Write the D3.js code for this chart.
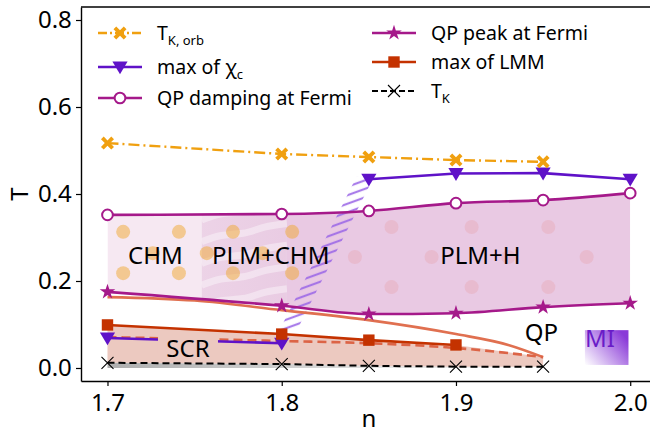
<!DOCTYPE html>
<html>
<head>
<meta charset="utf-8">
<script src="https://cdn.jsdelivr.net/npm/d3@7/dist/d3.min.js"></script>
<style>
  body { margin: 0; background: #fff; }
  svg { display: block; font-family: "Noto Sans", "Open Sans", sans-serif; }
</style>
</head>
<body>
<div id="root"></div>
<script>
// ---- data ----
const nOrb = [1.7, 1.8, 1.85, 1.9, 1.95];
const tkOrb = [0.517, 0.492, 0.485, 0.478, 0.474];

const nChiHigh = [1.85, 1.9, 1.95, 2.0];
const chiHigh = [0.434, 0.447, 0.448, 0.434];
const nChiLow = [1.7, 1.8];
const chiLow = [0.069, 0.057];

const nQP = [1.7, 1.8, 1.85, 1.9, 1.95, 2.0];
const qpDamping = [0.352, 0.354, 0.361, 0.379, 0.386, 0.402];
const qpPeak = [0.175, 0.143, 0.124, 0.126, 0.140, 0.149];

const nLMM = [1.7, 1.8, 1.85, 1.9];
const lmm = [0.099, 0.078, 0.064, 0.053];

const nCross = [1.7, 1.75, 1.8, 1.85, 1.9, 1.93, 1.95];
const crossSolid = [0.163, 0.155, 0.133, 0.110, 0.078, 0.053, 0.025];
const nCrossDash = [1.7, 1.8, 1.85, 1.9, 1.95];
const crossDash = [0.071, 0.062, 0.057, 0.046, 0.025];

const nTK = [1.7, 1.8, 1.85, 1.9, 1.95];
const tk = [0.012, 0.009, 0.005, 0.003, 0.003];

// region boundaries along n
const regionBreaks = [1.7, 1.754, 1.803, 2.0];
// decorative dots (n, T)
const chmDotN = [1.709, 1.741, 1.772, 1.806, 1.726, 1.757, 1.789, 1.709, 1.741, 1.772, 1.806];
const chmDotT = [0.313, 0.313, 0.313, 0.313, 0.264, 0.264, 0.264, 0.218, 0.218, 0.218, 0.218];
const plmDotN = [1.863, 1.909, 1.953, 1.842, 1.886, 1.930, 1.975, 1.863, 1.909, 1.953];
const plmDotT = [0.324, 0.324, 0.324, 0.255, 0.255, 0.255, 0.255, 0.186, 0.186, 0.186];
// hatched crossover band: centre line
const bandN = [1.8035, 1.848];
const bandT = [0.085, 0.44];

const xTicks = [1.7, 1.8, 1.9, 2.0];
const yTicks = [0.0, 0.2, 0.4, 0.6, 0.8];

// ---- layout ----
const W = 650, H = 434;
const m = { left: 81, top: 7, right: -2, bottom: 53 };
const pw = W - m.left - m.right;
const ph = H - m.top - m.bottom;

const svg = d3.select("#root").append("svg")
  .attr("width", W).attr("height", H);

const x = d3.scaleLinear().domain([1.6848, 2.0125]).range([0, pw]);
const y = d3.scaleLinear().domain([-0.0299, 0.8299]).range([ph, 0]);

const g = svg.append("g").attr("transform", `translate(${m.left},${m.top})`);
const defs = svg.append("defs");

const zip = (ns, ts) => ns.map((n, i) => [n, ts[i]]);
const lineSmooth = d3.line().x(d => x(d[0])).y(d => y(d[1])).curve(d3.curveMonotoneX);
const lineStraight = d3.line().x(d => x(d[0])).y(d => y(d[1]));

// ---- phase band between QP peak and QP damping ----
const bandArea = d3.area()
  .x((d, i) => x(nQP[i]))
  .y0((d, i) => y(qpPeak[i]))
  .y1((d, i) => y(qpDamping[i]))
  .curve(d3.curveMonotoneX);

const regionFills = ["#f6e8f2", "url(#plmchmGrad)", "#e9c9e3"];
const grad = defs.append("linearGradient").attr("id", "plmchmGrad")
  .attr("x1", "0").attr("x2", "1").attr("y1", "0").attr("y2", "0");
grad.append("stop").attr("offset", "0%").attr("stop-color", "#f0dbeb");
grad.append("stop").attr("offset", "100%").attr("stop-color", "#dcaed3");

regionFills.forEach((f, i) => {
  defs.append("clipPath").attr("id", "reg" + i)
    .append("rect")
      .attr("x", x(regionBreaks[i]))
      .attr("width", x(regionBreaks[i + 1]) - x(regionBreaks[i]))
      .attr("y", 0).attr("height", ph);
  g.append("path")
    .attr("d", bandArea(nQP))
    .attr("fill", f)
    .attr("clip-path", `url(#reg${i})`);
});

// soft white wavy stripes in PLM+CHM
const stripeT = [0.37, 0.32, 0.27, 0.22, 0.17];
const stripeG = g.append("g").attr("clip-path", "url(#reg1)");
stripeT.forEach(t => {
  const pts = [[1.754, t - 0.03], [1.765, t - 0.012], [1.778, t - 0.014], [1.79, t + 0.006], [1.803, t + 0.012]];
  stripeG.append("path")
    .attr("d", d3.line().x(d => x(d[0])).y(d => y(d[1])).curve(d3.curveBasis)(pts))
    .attr("fill", "none")
    .attr("stroke", "#fff")
    .attr("stroke-opacity", 0.4)
    .attr("stroke-width", 7);
});

// dots
g.append("g").selectAll("circle")
  .data(zip(chmDotN, chmDotT)).enter().append("circle")
    .attr("cx", d => x(d[0])).attr("cy", d => y(d[1])).attr("r", 7)
    .attr("fill", "#f0a830").attr("fill-opacity", 0.5);
g.append("g").selectAll("circle")
  .data(zip(plmDotN, plmDotT)).enter().append("circle")
    .attr("cx", d => x(d[0])).attr("cy", d => y(d[1])).attr("r", 7)
    .attr("fill", "#e8a0a8").attr("fill-opacity", 0.35);

// hatched crossover band
const hatch = defs.append("pattern").attr("id", "hatch")
  .attr("patternUnits", "userSpaceOnUse")
  .attr("width", 30).attr("height", 8)
  .attr("patternTransform", "rotate(-20)");
hatch.append("line")
  .attr("x1", 0).attr("x2", 30).attr("y1", 4).attr("y2", 4)
  .attr("stroke", "#9a66e6").attr("stroke-width", 2.2);
const bw = 0.005;
const bandPoly = [
  [bandN[0] - bw, bandT[0]], [bandN[1] - bw, bandT[1]],
  [bandN[1] + bw, bandT[1]], [bandN[0] + bw, bandT[0]]
];
g.append("path")
  .attr("d", lineStraight(bandPoly) + "Z")
  .attr("fill", "url(#hatch)")
  .attr("opacity", 0.85);

// ---- SCR region ----
const scrColor = "#ecc9c0";
const scrTop = zip(nLMM, lmm).concat([[1.95, 0.025]]);
const scrPoly = scrTop.concat(zip(nTK, tk).reverse());
g.append("path")
  .attr("d", lineStraight(scrPoly) + "Z")
  .attr("fill", scrColor);

// gray strip under T_K
const gray = defs.append("linearGradient").attr("id", "grayGrad")
  .attr("gradientUnits", "userSpaceOnUse")
  .attr("x1", x(1.7)).attr("x2", x(1.95)).attr("y1", 0).attr("y2", 0);
gray.append("stop").attr("offset", "0%").attr("stop-color", "#a0a0a0").attr("stop-opacity", 0.85);
gray.append("stop").attr("offset", "100%").attr("stop-color", "#a0a0a0").attr("stop-opacity", 0);
g.append("path")
  .attr("d", lineStraight(zip(nTK, tk).concat([[1.95, 0], [1.7, 0]])) + "Z")
  .attr("fill", "url(#grayGrad)");

// ---- marker shapes ----
const sym = (type, size) => d3.symbol().type(type).size(size)();
const triDown = size => {
  const s = Math.sqrt(size);
  return `M${-s * 0.62},${-s * 0.45}L${s * 0.62},${-s * 0.45}L0,${s * 0.6}Z`;
};
const bigX = r => {
  const w = r * 0.42;
  return `M${-r},${-r + w}L${-r + w},${-r}L0,${-w}L${r - w},${-r}L${r},${-r + w}L${w},0` +
         `L${r},${r - w}L${r - w},${r}L0,${w}L${-r + w},${r}L${-r},${r - w}L${-w},0Z`;
};

function markers(pts, draw) {
  g.append("g").selectAll("path").data(pts).enter().append("path")
    .attr("transform", d => `translate(${x(d[0])},${y(d[1])})`)
    .call(draw);
}

// salmon crossover lines
g.append("path").attr("d", lineSmooth(zip(nCross, crossSolid)))
  .attr("fill", "none").attr("stroke", "#e07050").attr("stroke-width", 2.6);
g.append("path").attr("d", lineSmooth(zip(nCrossDash, crossDash)))
  .attr("fill", "none").attr("stroke", "#dc6446").attr("stroke-width", 2.6)
  .attr("stroke-dasharray", "9,5");

// chi low (purple)
g.append("path").attr("d", lineStraight(zip(nChiLow, chiLow)))
  .attr("fill", "none").attr("stroke", "#5f12c8").attr("stroke-width", 2.6);
markers(zip(nChiLow, chiLow), s => s.attr("d", triDown(150)).attr("fill", "#5f12c8"));

// SCR label with background box
const scrN = 1.7462, scrT = 0.025;
g.append("rect")
  .attr("x", x(scrN) - 30).attr("y", y(scrT) - 23)
  .attr("width", 60).attr("height", 19)
  .attr("fill", scrColor);
g.append("text").text("SCR")
  .attr("x", x(scrN)).attr("y", y(scrT))
  .attr("text-anchor", "middle").attr("font-size", 24);

// LMM
g.append("path").attr("d", lineStraight(zip(nLMM, lmm)))
  .attr("fill", "none").attr("stroke", "#c43200").attr("stroke-width", 2.6);
markers(zip(nLMM, lmm), s => s.attr("d", sym(d3.symbolSquare, 130)).attr("fill", "#c43200"));

// T_K
g.append("path").attr("d", lineStraight(zip(nTK, tk)))
  .attr("fill", "none").attr("stroke", "#000").attr("stroke-width", 2)
  .attr("stroke-dasharray", "7,4");
markers(zip(nTK, tk), s => s.attr("d", "M-6,-6L6,6M-6,6L6,-6")
  .attr("stroke", "#000").attr("stroke-width", 1.1).attr("fill", "none"));

// QP damping / peak
g.append("path").attr("d", lineSmooth(zip(nQP, qpDamping)))
  .attr("fill", "none").attr("stroke", "#a5198a").attr("stroke-width", 2.6);
markers(zip(nQP, qpDamping), s => s.attr("d", sym(d3.symbolCircle, 90))
  .attr("fill", "#fff").attr("stroke", "#a5198a").attr("stroke-width", 2));
g.append("path").attr("d", lineSmooth(zip(nQP, qpPeak)))
  .attr("fill", "none").attr("stroke", "#a5198a").attr("stroke-width", 2.6);
markers(zip(nQP, qpPeak), s => s.attr("d", sym(d3.symbolStar, 75)).attr("fill", "#a5198a"));

// chi high
g.append("path").attr("d", lineStraight(zip(nChiHigh, chiHigh)))
  .attr("fill", "none").attr("stroke", "#5f12c8").attr("stroke-width", 2.6);
markers(zip(nChiHigh, chiHigh), s => s.attr("d", triDown(150)).attr("fill", "#5f12c8"));

// T_K,orb
g.append("path").attr("d", lineStraight(zip(nOrb, tkOrb)))
  .attr("fill", "none").attr("stroke", "#f0a010").attr("stroke-width", 2.4)
  .attr("stroke-dasharray", "11,4,2,4");
markers(zip(nOrb, tkOrb), s => s.attr("d", bigX(6.5)).attr("fill", "#f0a010"));

// region labels
const labels = [
  { t: "CHM", n: 1.7275, T: 0.238 },
  { t: "PLM+CHM", n: 1.7937, T: 0.238 },
  { t: "PLM+H", n: 1.914, T: 0.240 },
  { t: "QP", n: 1.949, T: 0.063 }
];
g.append("g").selectAll("text").data(labels).enter().append("text")
  .text(d => d.t)
  .attr("x", d => x(d.n)).attr("y", d => y(d.T))
  .attr("text-anchor", "middle").attr("font-size", 24);

// MI box
const miGrad = defs.append("linearGradient").attr("id", "miGrad")
  .attr("x1", "0").attr("y1", "1").attr("x2", "1").attr("y2", "0.3");
miGrad.append("stop").attr("offset", "0%").attr("stop-color", "#ffffff");
miGrad.append("stop").attr("offset", "100%").attr("stop-color", "#8a3ad8");
const miN = [1.974, 1.999], miT = [0.007, 0.087];
g.append("rect")
  .attr("x", x(miN[0])).attr("y", y(miT[1]))
  .attr("width", x(miN[1]) - x(miN[0])).attr("height", y(miT[0]) - y(miT[1]))
  .attr("fill", "url(#miGrad)");
g.append("text").text("MI")
  .attr("x", x(miN[0])).attr("y", y(miT[1]) + 17)
  .attr("font-size", 24).attr("fill", "#6a1cc8");

// ---- axes ----
const xAxis = g.append("g").attr("transform", `translate(0,${ph})`)
  .call(d3.axisBottom(x).tickValues(xTicks).tickFormat(d3.format(".1f")).tickSize(5).tickSizeOuter(0));
const yAxis = g.append("g")
  .call(d3.axisLeft(y).tickValues(yTicks).tickFormat(d3.format(".1f")).tickSize(5).tickSizeOuter(0));
[xAxis, yAxis].forEach(a => {
  a.selectAll("text").attr("font-size", 24).attr("fill", "#000")
    .attr("font-family", "Noto Sans, Open Sans, sans-serif");
  a.selectAll("line").attr("stroke", "#000").attr("stroke-width", 1.2);
  a.select(".domain").attr("stroke", "#000").attr("stroke-width", 1.4);
});
xAxis.selectAll("text").attr("dy", "0.9em");
yAxis.selectAll("text").attr("dx", "-0.05em");
g.append("line").attr("x1", 0).attr("x2", pw).attr("y1", 0).attr("y2", 0)
  .attr("stroke", "#000").attr("stroke-width", 1.4);
g.append("line").attr("x1", pw).attr("x2", pw).attr("y1", 0).attr("y2", ph)
  .attr("stroke", "#000").attr("stroke-width", 1.4);

svg.append("text").text("n")
  .attr("x", m.left + x(1.85)).attr("y", 427)
  .attr("text-anchor", "middle").attr("font-size", 24);
svg.append("text").text("T")
  .attr("transform", `translate(28,${m.top + y(0.4)})rotate(-90)`)
  .attr("text-anchor", "middle").attr("font-size", 24);

// ---- legend ----
const legendItems = [
  { col: 0, row: 33, label: "T", sub: "K, orb", color: "#f0a010", dash: "9,3,2,3", mk: "X" },
  { col: 0, row: 67, label: "max of χ", sub: "c", color: "#5f12c8", dash: null, mk: "tri" },
  { col: 0, row: 98, label: "QP damping at Fermi", sub: null, color: "#a5198a", dash: null, mk: "circ" },
  { col: 1, row: 33, label: "QP peak at Fermi", sub: null, color: "#a5198a", dash: null, mk: "star" },
  { col: 1, row: 62, label: "max of LMM", sub: null, color: "#c43200", dash: null, mk: "sq" },
  { col: 1, row: 91, label: "T", sub: "K", color: "#000", dash: "6,3", mk: "x" }
];
const colX = [98, 372];
const legend = svg.append("g");
legendItems.forEach(it => {
  const x0 = colX[it.col], cx = x0 + 22;
  legend.append("line")
    .attr("x1", x0).attr("x2", x0 + 44).attr("y1", it.row).attr("y2", it.row)
    .attr("stroke", it.color).attr("stroke-width", it.mk === "x" ? 2 : 2.6)
    .attr("stroke-dasharray", it.dash);
  const mk = legend.append("path").attr("transform", `translate(${cx},${it.row})`);
  if (it.mk === "X") mk.attr("d", bigX(6.5)).attr("fill", it.color);
  if (it.mk === "tri") mk.attr("d", triDown(150)).attr("fill", it.color);
  if (it.mk === "circ") mk.attr("d", sym(d3.symbolCircle, 90)).attr("fill", "#fff")
    .attr("stroke", it.color).attr("stroke-width", 2);
  if (it.mk === "star") mk.attr("d", sym(d3.symbolStar, 75)).attr("fill", it.color);
  if (it.mk === "sq") mk.attr("d", sym(d3.symbolSquare, 130)).attr("fill", it.color);
  if (it.mk === "x") mk.attr("d", "M-6,-6L6,6M-6,6L6,-6").attr("stroke", it.color)
    .attr("stroke-width", 1.1).attr("fill", "none");
  const t = legend.append("text")
    .attr("x", x0 + 59).attr("y", it.row + 7)
    .attr("font-size", 19.5).text(it.label);
  if (it.sub) t.append("tspan").attr("font-size", 13).attr("dy", 5).text(it.sub);
});
</script>
</body>
</html>
